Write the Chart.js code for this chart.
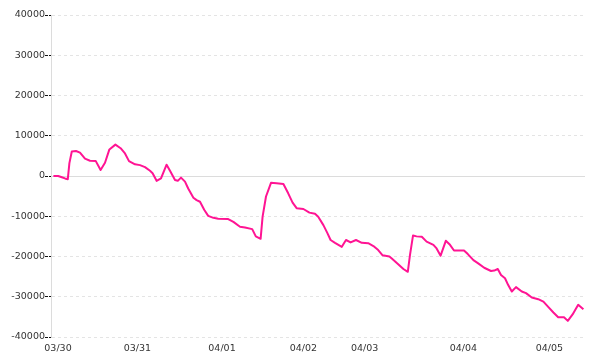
<!DOCTYPE html>
<html>
<head>
<meta charset="utf-8">
<script src="https://cdn.jsdelivr.net/npm/chart.js@4/dist/chart.umd.min.js"></script>
<style>
  html, body { margin: 0; padding: 0; background: #fff; }
</style>
</head>
<body>
<canvas id="pnlChart" width="600" height="360"></canvas>
<script>
// sample number (x) and running value (y)
var seq = [0.6, 1.8, 2.7, 3.5, 4.2, 4.6, 5.2, 6.25, 7.25, 8.5, 9.75, 11.2, 12.4, 13.5, 14.6, 16.1,
    17.4, 18.5, 19.5, 21, 22.25, 23.5, 24.75, 25.4, 26.4, 27.5, 28.9, 29.75, 31, 31.7, 32.5, 33.5,
    34.3, 35.6, 36.4, 37.25, 38.3, 39.3, 40.6, 41.8, 44.3, 45.6, 47.25, 48.5, 50.3, 51.2, 52.4,
    52.9, 53.75, 55, 56.4, 58.1, 59.3, 60.4, 61.4, 63.1, 64.6, 66, 66.8, 68.1, 69.1, 69.9, 71,
    72.7, 73.75, 74.9, 76.25, 77.7, 79.3, 80.6, 81.8, 82.9, 84.6, 85.2, 86.8, 88.1, 89.2, 89.75,
    90.5, 91.4, 92.7, 93.9, 95.6, 96.4, 97.4, 98.7, 99.75, 100.75, 103.25, 104.2, 105.6, 106.8,
    108.3, 110, 110.8, 111.7, 112.5, 113.5, 114.3, 115.2, 116.25, 117.7, 118.75, 120.2, 121.8,
    123.1, 124.3, 125.6, 126.8, 128.25, 129.2, 130.4, 131.8, 133.1];

var values = [0, 0, -300, -600, -800, 3200, 6100, 6200, 5800, 4300, 3800, 3700, 1500, 3300, 6600, 7800,
    6900, 5600, 3700, 2900, 2700, 2200, 1300, 700, -1200, -600, 2800, 1300, -1000, -1200, -400, -1400,
    -3100, -5400, -6000, -6400, -8400, -9900, -10400, -10600, -10700, -11400, -12600, -12800, -13200, -15000, -15600,
    -10100, -5100, -1700, -1800, -2000, -4300, -6600, -8000, -8200, -9100, -9400, -10100, -12200, -14200, -15900, -16600,
    -17600, -15900, -16500, -15900, -16600, -16700, -17400, -18400, -19700, -20000, -20500, -21900, -23100, -23800, -19600,
    -14800, -15000, -15100, -16300, -17100, -18000, -19800, -16100, -17100, -18500, -18500, -19400, -20900, -21700,
    -22800, -23600, -23500, -23100, -24600, -25400, -27100, -28700, -27600, -28700, -29100, -30200, -30600,
    -31200, -32500, -33900, -35100, -35100, -36000, -34400, -32000, -33100];

// day labels and the sample number where each one sits
var dayLabels = ['03/30', '03/31', '04/01', '04/02', '04/03', '04/04', '04/05'];
var dayPos = [1.75, 21.6, 42.75, 63.1, 78.4, 103.1, 124.6];

var yTicks = [-40000, -30000, -20000, -10000, 0, 10000, 20000, 30000, 40000];

var points = seq.map(function (x, i) {
    return { x: x, y: values[i] };
});

// solid line on zero
var zeroLine = {
    id: 'zeroLine',
    beforeDatasetsDraw: function (chart) {
        var ctx = chart.ctx;
        var area = chart.chartArea;
        var y = Math.round(chart.scales.y.getPixelForValue(0)) + 0.5;
        ctx.save();
        ctx.strokeStyle = '#dcdcdc';
        ctx.lineWidth = 1;
        ctx.beginPath();
        ctx.moveTo(area.left, y);
        ctx.lineTo(area.right, y);
        ctx.stroke();
        ctx.restore();
    }
};

var ctx = document.getElementById('pnlChart').getContext('2d');
var pnlChart = new Chart(ctx, {
    type: 'line',
    data: {
        datasets: [{
            data: points,
            borderColor: '#ff1493',
            borderWidth: 2,
            borderJoinStyle: 'round',
            pointRadius: 0,
            tension: 0,
            fill: false
        }]
    },
    options: {
        responsive: false,
        animation: false,
        layout: { padding: { top: 15, right: 15, left: 0, bottom: 0 } },
        plugins: {
            legend: { display: false },
            tooltip: { enabled: false }
        },
        scales: {
            x: {
                type: 'linear',
                min: 0,
                max: 133.5,
                grid: { display: false, drawTicks: false },
                border: { display: false },
                afterBuildTicks: function (axis) {
                    axis.ticks = dayPos.map(function (v) { return { value: v }; });
                },
                afterFit: function (axis) {
                    axis.height = 23;
                },
                ticks: {
                    autoSkip: false,
                    maxRotation: 0,
                    padding: 6,
                    color: '#333',
                    font: { family: 'DejaVu Sans', size: 9.5 },
                    callback: function (value, index) {
                        return dayLabels[index];
                    }
                }
            },
            y: {
                min: -40000,
                max: 40000,
                afterBuildTicks: function (axis) {
                    axis.ticks = yTicks.map(function (v) { return { value: v }; });
                },
                afterFit: function (axis) {
                    axis.width = 51;
                },
                grid: {
                    color: '#e4e4e4',
                    tickBorderDash: [3, 1],
                    tickColor: '#111',
                    tickLength: 6
                },
                border: { color: '#dcdcdc', dash: [3, 3] },
                ticks: {
                    padding: 0,
                    color: '#333',
                    font: { family: 'DejaVu Sans', size: 9.5 },
                    callback: function (value) {
                        return String(value);
                    }
                }
            }
        }
    },
    plugins: [zeroLine]
});
</script>
</body>
</html>
